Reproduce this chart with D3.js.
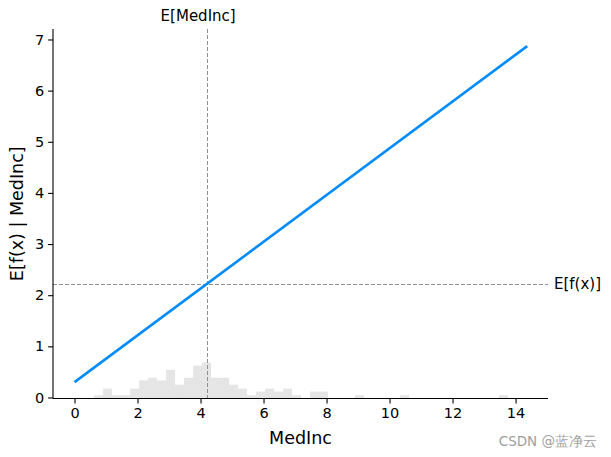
<!DOCTYPE html>
<html>
<head>
<meta charset="utf-8">
<script src="https://cdn.jsdelivr.net/npm/d3@7"></script>
<style>
  html, body { margin: 0; padding: 0; background: #fff; }
  svg text { font-family: "DejaVu Sans", sans-serif; }
</style>
</head>
<body>
<svg id="chart" width="611" height="457"></svg>
<script>
// ---- data ----
const lineX = [0.0, 14.37];          // MedInc
const lineY = [0.30, 6.87];          // E[f(x) | MedInc]
const expectedX = 4.21;              // E[MedInc]
const expectedY = 2.22;              // E[f(x)]
const histStart = 0.62;              // left edge of first bin
const histBinWidth = 0.2857;
const histCounts = [1, 3, 1, 1, 3, 5.5, 6.3, 5.5, 8.7, 4.2,
                    6.3, 10, 10.9, 6.3, 6.3, 4.2, 3, 1, 2.1, 3,
                    2.1, 3, 1, 0, 2.1, 2.1, 0, 0, 0, 1,
                    0, 0, 0, 0, 1, 0, 0, 0, 0, 0,
                    0, 0, 0, 0, 0, 1];
const xTicks = [0, 2, 4, 6, 8, 10, 12, 14];
const yTicks = [0, 1, 2, 3, 4, 5, 6, 7];
const featureName = "MedInc";

// ---- layout ----
const svg = d3.select("#chart");
const mLeft = 53, mRight = 548, mTop = 29, mBottom = 398.5;

const x = d3.scaleLinear().domain([-0.683, 15.03]).range([mLeft, mRight]);
const y = d3.scaleLinear().domain([-0.02, 7.205]).range([mBottom, mTop]);
const yHist = d3.scaleLinear().domain([0, 112]).range([mBottom, mTop]);

// histogram
const bins = histCounts.map((c, i) => ({x0: histStart + i * histBinWidth, x1: histStart + (i + 1) * histBinWidth, c}));
svg.append("g").selectAll("rect").data(bins.filter(d => d.c > 0)).join("rect")
  .attr("x", d => x(d.x0))
  .attr("width", d => x(d.x1) - x(d.x0))
  .attr("y", d => yHist(d.c))
  .attr("height", d => yHist(0) - yHist(d.c))
  .attr("fill", "#000").attr("fill-opacity", 0.1);

// reference lines
const vx = Math.round(x(expectedX)) + 0.5;
const hy = Math.round(y(expectedY)) + 0.5;
svg.append("line")
  .attr("x1", vx).attr("x2", vx)
  .attr("y1", mTop).attr("y2", mBottom)
  .attr("stroke", "#8f8f8f").attr("stroke-width", 1).attr("stroke-dasharray", "4,2");
svg.append("line")
  .attr("x1", mLeft).attr("x2", mRight)
  .attr("y1", hy).attr("y2", hy)
  .attr("stroke", "#8f8f8f").attr("stroke-width", 1).attr("stroke-dasharray", "4,2");

// line
const pts = lineX.map((v, i) => [v, lineY[i]]);
svg.append("path")
  .attr("d", d3.line().x(d => x(d[0])).y(d => y(d[1]))(pts))
  .attr("fill", "none").attr("stroke", "#008bfb").attr("stroke-width", 2.6);

// axes
const xAxis = svg.append("g").attr("transform", `translate(0,${mBottom})`)
  .call(d3.axisBottom(x).tickValues(xTicks).tickSize(4.9).tickPadding(4));
const yAxis = svg.append("g").attr("transform", `translate(${mLeft},0)`)
  .call(d3.axisLeft(y).tickValues(yTicks).tickSize(4.9).tickPadding(4));
[xAxis, yAxis].forEach(g => {
  g.selectAll("path.domain").attr("stroke", "#000").attr("stroke-width", 1.1);
  g.selectAll(".tick line").attr("stroke", "#000").attr("stroke-width", 1.1);
  g.selectAll(".tick text").attr("fill", "#000").attr("font-size", "14.5px")
    .attr("font-family", "DejaVu Sans, sans-serif");
});
xAxis.select("path.domain").attr("d", `M${mLeft},0H${mRight}`);
yAxis.select("path.domain").attr("d", `M0,${mBottom}V${mTop}`);

// labels
svg.append("text").attr("x", (mLeft + mRight) / 2).attr("y", 444)
  .attr("text-anchor", "middle").attr("font-size", "17.5px").text(featureName);
svg.append("text").attr("transform", `translate(23,${(mTop + mBottom) / 2}) rotate(-90)`)
  .attr("text-anchor", "middle").attr("font-size", "17.5px").text("E[f(x) | " + featureName + "]");
svg.append("text").attr("x", x(expectedX) - 9).attr("y", 21)
  .attr("text-anchor", "middle").attr("font-size", "15px").text("E[" + featureName + "]");
svg.append("text").attr("x", 554).attr("y", y(expectedY)).attr("dy", "0.35em")
  .attr("text-anchor", "start").attr("font-size", "15px").text("E[f(x)]");

// watermark
svg.append("text").attr("x", 597).attr("y", 446)
  .attr("text-anchor", "end").attr("font-size", "13.5px").attr("fill", "#a0a0a0")
  .attr("font-family", "Noto Sans CJK SC, DejaVu Sans, sans-serif").text("CSDN @蓝净云");
</script>
</body>
</html>
